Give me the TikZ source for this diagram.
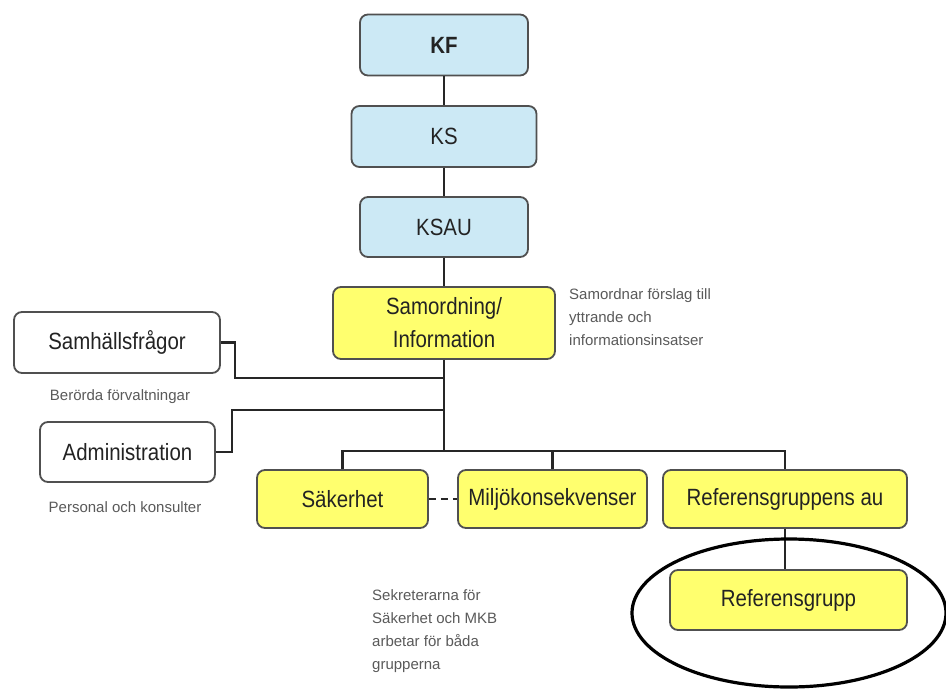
\documentclass[tikz,border=0pt]{standalone}
\usepackage{fontspec}
\setmainfont{Liberation Sans}
\newfontfamily\boxfont[FakeStretch=0.87]{Liberation Sans}
\usetikzlibrary{shapes.geometric}
\definecolor{lblue}{RGB}{204,233,245}
\definecolor{lyell}{RGB}{255,255,110}
\definecolor{bord}{RGB}{80,80,80}
\definecolor{txt}{RGB}{35,35,35}
\definecolor{stxt}{RGB}{90,90,90}
\begin{document}
\begin{tikzpicture}[x=1pt,y=-1pt,
  orgbox/.style={draw=bord, line width=1.8pt, rounded corners=8pt, text=txt,
    font=\boxfont\fontsize{23.5}{26}\selectfont, inner sep=0pt},
  bluebox/.style={orgbox, fill=lblue},
  yelbox/.style={orgbox, fill=lyell},
  whitebox/.style={orgbox, fill=white},
  conn/.style={line width=2.7pt, draw=black!85},
  note/.style={text=stxt, font=\fontsize{15}{23}\selectfont, inner sep=0pt, align=left}]
\useasboundingbox (0,0) rectangle (946,689);
\fill[white] (0,0) rectangle (946,689);

\node[bluebox, minimum width=168pt, minimum height=61pt, font=\boxfont\bfseries\fontsize{23.5}{26}\selectfont] (kf) at (444,45) {KF};
\node[bluebox, minimum width=185pt, minimum height=61pt] (ks) at (444,136.5) {KS};
\node[bluebox, minimum width=168pt, minimum height=60pt] (ksau) at (444,227) {KSAU};
\node[yelbox, minimum width=222pt, minimum height=72pt, align=center, font=\boxfont\fontsize{23.5}{33}\selectfont] (samo) at (444,323) {Samordning/\\Information};
\node[whitebox, minimum width=206pt, minimum height=61pt] (samh) at (117,342.5) {Samhällsfrågor};
\node[whitebox, minimum width=175pt, minimum height=60pt] (adm) at (127.5,452) {Administration};
\node[yelbox, minimum width=171pt, minimum height=58pt] (sak) at (342.5,499) {Säkerhet};
\node[yelbox, minimum width=189pt, minimum height=58pt] (milj) at (552.5,499) {Miljökonsekvenser};
\node[yelbox, minimum width=244pt, minimum height=58pt] (refau) at (785,499) {Referensgruppens au};
\node[yelbox, minimum width=237pt, minimum height=60pt] (refgr) at (788.5,600) {Referensgrupp};

\node[note, anchor=north west] (samnote) at (569,288) {Samordnar förslag till\\yttrande och\\informationsinsatser};
\node[note] (berorda) at (120,397) {Berörda förvaltningar};
\node[note] (personal) at (125,507) {Personal och konsulter};
\node[note, anchor=north west] (sekr) at (372,589) {Sekreterarna för\\Säkerhet och MKB\\arbetar för båda\\grupperna};

\coordinate (j1) at (444,378);
\coordinate (j2) at (444,410);
\coordinate (bus) at (444,451);

\draw[conn] (kf) -- (ks);
\draw[conn] (ks) -- (ksau);
\draw[conn] (ksau) -- (samo);
\draw[conn] (samo.south) -- (bus);
\draw[conn] (samh.east) -- +(14,0) |- (j1);
\draw[conn] (adm.east) -- +(16,0) |- (j2);
\draw[conn] (sak.north) -- (sak.north |- bus) -- (refau.north |- bus) -- (refau.north);
\draw[conn] (milj.north) -- (milj.north |- bus);
\draw[conn, dashed, dash pattern=on 7pt off 5pt] (sak.east) -- (milj.west);
\draw[conn, line width=2pt] (refau.south) -- (refau.south |- refgr.north);

\node[ellipse, draw=black, line width=3.2pt, minimum width=314pt, minimum height=148pt, inner sep=0pt] (ring) at (789,613) {};
\end{tikzpicture}
\end{document}
